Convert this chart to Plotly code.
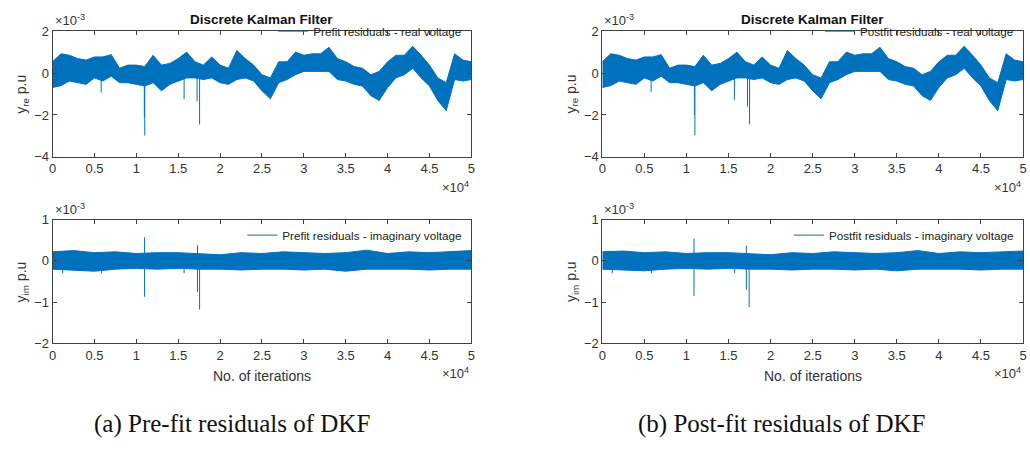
import plotly.graph_objects as go

# ---------------- data (residual values in units of 1e-3 p.u.) ----------------
iters_re = list(range(0, 50001, 1000))
pre_re_hi = [0.54, 0.92, 0.85, 0.69, 0.62, 0.77, 0.77, 0.88, 0.23, 0.38,
             0.38, 0.31, 0.85, 0.38, 0.46, 0.69, 1.00, 0.54, 0.38, 0.77,
             0.38, 0.23, 1.08, 0.69, 0.38, -0.08, -0.23, 0.54, 0.54, 1.00,
             0.85, 0.92, 0.92, 1.23, 0.69, 0.54, 0.31, 0.23, -0.08, 0.08,
             0.54, 0.85, 0.85, 1.28, 0.85, 0.38, -0.23, -0.46, 0.92, 0.62, 0.54]
pre_re_lo = [-0.69, -0.60, -0.38, -0.46, -0.54, -0.23, -0.38, -0.15, -0.46, -0.46,
             -0.54, -0.62, -0.46, -0.85, -0.54, -0.38, -0.23, -0.23, -0.31, -0.23,
             -0.46, -0.54, -0.31, -0.23, -0.38, -0.85, -1.23, -0.46, -0.31, -0.08,
             0.08, 0.08, 0.08, 0.08, -0.31, -0.38, -0.54, -0.62, -1.08, -1.31,
             -0.69, -0.23, -0.08, 0.23, -0.23, -0.62, -1.31, -1.80, -0.31, -0.38, -0.31]
post_re_hi = [0.54, 0.92, 0.85, 0.69, 0.62, 0.77, 0.77, 0.88, 0.23, 0.38,
              0.38, 0.31, 0.85, 0.38, 0.46, 0.69, 1.00, 0.54, 0.38, 0.77,
              0.38, 0.23, 1.08, 0.69, 0.38, -0.08, -0.23, 0.54, 0.54, 1.00,
              0.85, 0.92, 0.92, 1.23, 0.69, 0.54, 0.31, 0.23, -0.08, 0.08,
              0.54, 0.85, 0.85, 1.28, 0.85, 0.38, -0.23, -0.46, 0.92, 0.62, 0.54]
post_re_lo = [-0.69, -0.60, -0.38, -0.46, -0.54, -0.23, -0.38, -0.15, -0.46, -0.46,
              -0.54, -0.62, -0.46, -0.85, -0.54, -0.38, -0.23, -0.23, -0.31, -0.23,
              -0.46, -0.54, -0.31, -0.23, -0.38, -0.85, -1.23, -0.46, -0.31, -0.08,
              0.08, 0.08, 0.08, 0.08, -0.31, -0.38, -0.54, -0.62, -1.08, -1.31,
              -0.69, -0.23, -0.08, 0.23, -0.23, -0.62, -1.31, -1.80, -0.31, -0.38, -0.31]

iters_im = list(range(0, 50001, 2500))
pre_im_hi = [0.22, 0.25, 0.20, 0.22, 0.18, 0.20, 0.20, 0.18, 0.15, 0.20, 0.18,
             0.22, 0.20, 0.18, 0.20, 0.26, 0.18, 0.22, 0.20, 0.22, 0.25]
pre_im_lo = [-0.20, -0.22, -0.25, -0.20, -0.18, -0.20, -0.18, -0.20, -0.20, -0.22, -0.20,
             -0.20, -0.22, -0.20, -0.25, -0.20, -0.20, -0.20, -0.22, -0.20, -0.20]
post_im_hi = [0.22, 0.24, 0.20, 0.22, 0.18, 0.20, 0.20, 0.18, 0.15, 0.20, 0.18,
              0.22, 0.20, 0.18, 0.20, 0.25, 0.18, 0.22, 0.20, 0.22, 0.24]
post_im_lo = [-0.20, -0.22, -0.24, -0.20, -0.18, -0.20, -0.18, -0.20, -0.20, -0.22, -0.20,
              -0.20, -0.22, -0.20, -0.24, -0.20, -0.20, -0.20, -0.22, -0.20, -0.20]

# isolated spikes: iteration, top, bottom
pre_re_spike_it = [5800, 10950, 11000, 15700, 17250, 17550]
pre_re_spike_top = [0.0, 0.0, 0.0, 0.0, 0.0, 0.0]
pre_re_spike_bot = [-0.92, -2.10, -2.98, -1.25, -1.35, -2.45]
post_re_spike_it = [5800, 10950, 11000, 15700, 17250, 17500]
post_re_spike_top = [0.0, 0.0, 0.0, 0.0, 0.0, 0.0]
post_re_spike_bot = [-0.90, -2.00, -2.97, -1.28, -1.60, -2.45]
pre_im_spike_it = [1200, 5850, 10980, 15700, 17300, 17550]
pre_im_spike_top = [0.10, 0.10, 0.57, 0.10, 0.38, 0.10]
pre_im_spike_bot = [-0.30, -0.30, -0.87, -0.30, -0.75, -1.18]
post_im_spike_it = [1180, 5830, 10900, 15730, 17120, 17450]
post_im_spike_top = [0.10, 0.10, 0.54, 0.10, 0.37, 0.10]
post_im_spike_bot = [-0.30, -0.30, -0.85, -0.30, -0.70, -1.12]

x_tickvals = [0, 5000, 10000, 15000, 20000, 25000, 30000, 35000, 40000, 45000, 50000]
x_ticktext = ["0", "0.5", "1", "1.5", "2", "2.5", "3", "3.5", "4", "4.5", "5"]
y_re_ticks = [-4, -2, 0, 2]
y_im_ticks = [-2, -1, 0, 1]

legend_names = ["Prefit residuals - real voltage", "Prefit residuals - imaginary voltage",
                "Postfit residuals - real voltage", "Postfit residuals - imaginary voltage"]
captions = ["(a) Pre-fit residuals of DKF", "(b) Post-fit residuals of DKF"]

# ---------------- figure ----------------
W, H = 1030, 450
BLUE = "#0072BD"
AX = "#404040"
TXT = "#333333"
FONT = "Liberation Sans, Arial, sans-serif"

def px(x):
    return x / W

def py(y):
    return 1 - y / H

panels = [
    ("x", "y", "legend", 49, 471, 25, 155, 10, iters_re, pre_re_hi, pre_re_lo,
     pre_re_spike_it, pre_re_spike_top, pre_re_spike_bot, [-4, 2], y_re_ticks, legend_names[0]),
    ("x2", "y2", "legend2", 49, 471, 220, 348, 221, iters_im, pre_im_hi, pre_im_lo,
     pre_im_spike_it, pre_im_spike_top, pre_im_spike_bot, [-2, 1], y_im_ticks, legend_names[1]),
    ("x3", "y3", "legend3", 603, 1027, 25, 155, 10, iters_re, post_re_hi, post_re_lo,
     post_re_spike_it, post_re_spike_top, post_re_spike_bot, [-4, 2], y_re_ticks, legend_names[2]),
    ("x4", "y4", "legend4", 603, 1027, 220, 348, 221, iters_im, post_im_hi, post_im_lo,
     post_im_spike_it, post_im_spike_top, post_im_spike_bot, [-2, 1], y_im_ticks, legend_names[3]),
]

fig = go.Figure()
layout = dict(
    width=W, height=H, margin=dict(l=0, r=0, t=0, b=0),
    paper_bgcolor="white", plot_bgcolor="white",
    font=dict(family=FONT, size=13, color=TXT),
)
annotations = []

for (xa, ya, lg, x0, x1, yt, yb, lgy, its, hi, lo, s_it, s_top, s_bot, yr, yt_vals, name) in panels:
    fig.add_trace(go.Scatter(x=its, y=hi, mode="lines", line=dict(color=BLUE, width=1),
                             xaxis=xa, yaxis=ya, showlegend=False, hoverinfo="skip"))
    fig.add_trace(go.Scatter(x=its, y=lo, mode="lines", line=dict(color=BLUE, width=1),
                             fill="tonexty", fillcolor=BLUE,
                             xaxis=xa, yaxis=ya, showlegend=False, hoverinfo="skip"))
    sx, sy = [], []
    for i, t, b in zip(s_it, s_top, s_bot):
        sx += [i, i, None]
        sy += [t, b, None]
    fig.add_trace(go.Scatter(x=sx, y=sy, mode="lines", line=dict(color=BLUE, width=1),
                             xaxis=xa, yaxis=ya, name=name, legend=lg, showlegend=True))

    xkey = "xaxis" + xa[1:]
    ykey = "yaxis" + ya[1:]
    layout[xkey] = dict(domain=[px(x0), px(x1)], range=[0, 50000], anchor=ya,
                        tickvals=x_tickvals, ticktext=x_ticktext, ticks="inside", ticklen=4,
                        tickcolor=AX, showline=True, linecolor=AX, linewidth=1, mirror="ticks",
                        showgrid=False, zeroline=False, tickfont=dict(size=13, color=TXT))
    layout[ykey] = dict(domain=[py(yb), py(yt)], range=yr, anchor=xa,
                        tickvals=yt_vals, ticks="inside", ticklen=4,
                        tickcolor=AX, showline=True, linecolor=AX, linewidth=1, mirror="ticks",
                        showgrid=False, zeroline=False, tickfont=dict(size=13, color=TXT))
    layout[lg] = dict(x=px(x1) - 0.004, y=py(lgy), xanchor="right", yanchor="top",
                      bgcolor="rgba(255,255,255,0)", borderwidth=0,
                      font=dict(size=11.7, color="#222222", family=FONT),
                      itemwidth=30, tracegroupgap=0)
    annotations.append(dict(x=px(x0), y=py(yt - 1), xref="paper", yref="paper",
                            xanchor="left", yanchor="bottom", showarrow=False,
                            text="\u00d710<sup>-3</sup>", font=dict(size=13, color=TXT)))
    annotations.append(dict(x=px(x1), y=py(yb + 31), xref="paper", yref="paper",
                            xanchor="right", yanchor="middle", showarrow=False,
                            text="\u00d710<sup>4</sup>", font=dict(size=13, color=TXT)))
    ylab = "y<sub>re</sub> p.u" if ya in ("y", "y3") else "y<sub>im</sub> p.u"
    annotations.append(dict(x=px(x0 - 31), y=py((yt + yb) / 2), xref="paper", yref="paper",
                            xanchor="center", yanchor="middle", showarrow=False, textangle=-90,
                            text=ylab, font=dict(size=14, color=TXT)))
    if ya in ("y", "y3"):
        annotations.append(dict(x=px((x0 + x1) / 2), y=py(13), xref="paper", yref="paper",
                                xanchor="center", yanchor="middle", showarrow=False,
                                text="<b>Discrete Kalman Filter</b>",
                                font=dict(size=13.5, color="#111111")))
    else:
        annotations.append(dict(x=px((x0 + x1) / 2), y=py(382), xref="paper", yref="paper",
                                xanchor="center", yanchor="middle", showarrow=False,
                                text="No. of iterations", font=dict(size=14, color=TXT)))

annotations.append(dict(x=px(89), y=py(431), xref="paper", yref="paper", xanchor="left",
                        yanchor="middle", showarrow=False, text=captions[0],
                        font=dict(size=25, color="#111111", family="Liberation Serif, serif")))
annotations.append(dict(x=px(637), y=py(431), xref="paper", yref="paper", xanchor="left",
                        yanchor="middle", showarrow=False, text=captions[1],
                        font=dict(size=25, color="#111111", family="Liberation Serif, serif")))

layout["annotations"] = annotations
fig.update_layout(**layout)
fig.write_html("out.html")
